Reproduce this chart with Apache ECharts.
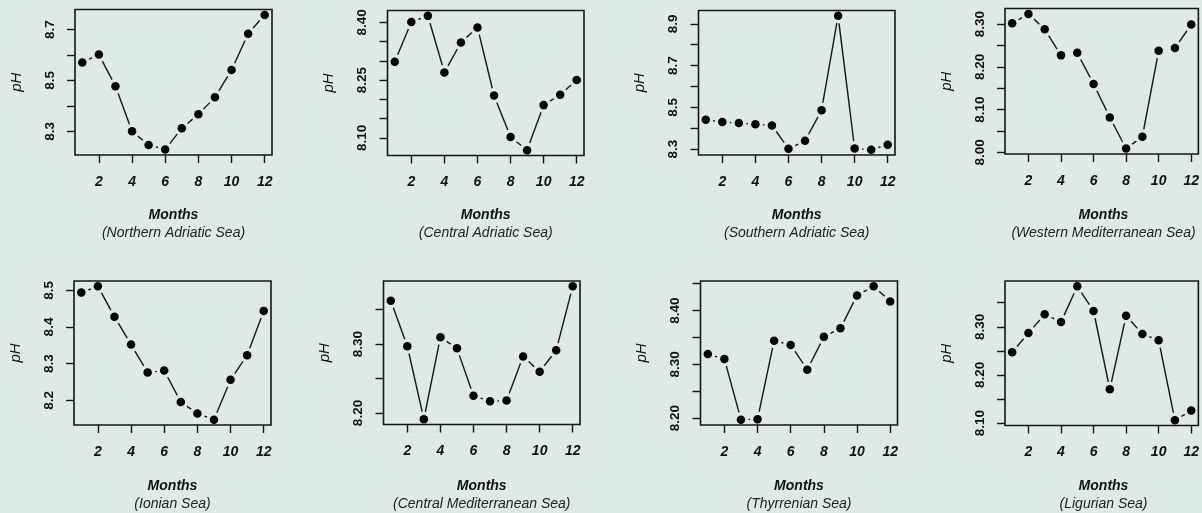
<!DOCTYPE html>
<html>
<head>
<meta charset="utf-8">
<script src="https://cdn.jsdelivr.net/npm/echarts@6/dist/echarts.min.js"></script>
<style>
html,body{margin:0;padding:0;background:#dfe9e6;}
#chart{width:1202px;height:513px;}
</style>
</head>
<body>
<div id="chart"></div>
<script>
// ---- data ----
const months = [1,2,3,4,5,6,7,8,9,10,11,12];
const xTicks = [2,4,6,8,10,12];

const seaNames = ['Northern Adriatic Sea','Central Adriatic Sea','Southern Adriatic Sea','Western Mediterranean Sea',
                  'Ionian Sea','Central Mediterranean Sea','Thyrrenian Sea','Ligurian Sea'];

const northernAdriatic = [8.571, 8.602, 8.477, 8.300, 8.246, 8.228, 8.312, 8.367, 8.434, 8.541, 8.684, 8.758];
const centralAdriatic  = [8.298, 8.401, 8.417, 8.270, 8.348, 8.387, 8.210, 8.102, 8.068, 8.185, 8.212, 8.250];
const southernAdriatic = [8.441, 8.430, 8.425, 8.419, 8.414, 8.302, 8.340, 8.486, 8.938, 8.303, 8.298, 8.322];
const westernMed       = [8.302, 8.324, 8.288, 8.227, 8.233, 8.160, 8.082, 8.009, 8.037, 8.238, 8.244, 8.299];
const ionian           = [8.494, 8.511, 8.428, 8.352, 8.276, 8.281, 8.195, 8.164, 8.147, 8.256, 8.323, 8.444];
const centralMed       = [8.363, 8.297, 8.191, 8.310, 8.294, 8.225, 8.217, 8.218, 8.282, 8.260, 8.291, 8.384];
const thyrrenian       = [8.319, 8.310, 8.197, 8.198, 8.344, 8.336, 8.290, 8.351, 8.367, 8.428, 8.445, 8.417];
const ligurian         = [8.247, 8.287, 8.326, 8.310, 8.384, 8.333, 8.170, 8.323, 8.285, 8.272, 8.106, 8.126];

const yTicks1 = [8.3, 8.4, 8.5, 8.6, 8.7];               const yLabels1 = ['8.3','8.5','8.7'];
const yTicks2 = [8.10, 8.15, 8.20, 8.25, 8.30, 8.35, 8.40]; const yLabels2 = ['8.10','8.25','8.40'];
const yTicks3 = [8.3, 8.4, 8.5, 8.6, 8.7, 8.8, 8.9];     const yLabels3 = ['8.3','8.5','8.7','8.9'];
const yTicks4 = [8.00, 8.05, 8.10, 8.15, 8.20, 8.25, 8.30]; const yLabels4 = ['8.00','8.10','8.20','8.30'];
const yTicks5 = [8.2, 8.3, 8.4, 8.5];                     const yLabels5 = ['8.2','8.3','8.4','8.5'];
const yTicks6 = [8.20, 8.25, 8.30, 8.35];                 const yLabels6 = ['8.20','8.30'];
const yTicks7 = [8.20, 8.25, 8.30, 8.35, 8.40, 8.45];     const yLabels7 = ['8.20','8.30','8.40'];
const yTicks8 = [8.10, 8.15, 8.20, 8.25, 8.30, 8.35];     const yLabels8 = ['8.10','8.20','8.30'];

// ---- layout ----
const panels = [
  {vals: northernAdriatic, yt: yTicks1, yl: yLabels1, grid:{left:75,   top:9.5,  width:197,   height:145.5}},
  {vals: centralAdriatic,  yt: yTicks2, yl: yLabels2, grid:{left:387.5,top:10.5, width:196.5, height:145}},
  {vals: southernAdriatic, yt: yTicks3, yl: yLabels3, grid:{left:698.5,top:10.5, width:196.5, height:144.5}},
  {vals: westernMed,       yt: yTicks4, yl: yLabels4, grid:{left:1005, top:8.5,  width:199,   height:145.5}},
  {vals: ionian,           yt: yTicks5, yl: yLabels5, grid:{left:74,   top:281,  width:197,   height:144}},
  {vals: centralMed,       yt: yTicks6, yl: yLabels6, grid:{left:383.5,top:281,  width:196.5, height:143.5}},
  {vals: thyrrenian,       yt: yTicks7, yl: yLabels7, grid:{left:700.5,top:281,  width:197,   height:144}},
  {vals: ligurian,         yt: yTicks8, yl: yLabels8, grid:{left:1005, top:281,  width:199,   height:144.5}},
];

const INK = '#161616';
const TXT = '#111';
const FONT = '"Liberation Sans", Arial, Helvetica, sans-serif';
const GAP = 7.5;

const grid = [], xAxis = [], yAxis = [], series = [], title = [];

panels.forEach((p, i) => {
  const g = p.grid;
  grid.push(Object.assign({show:true, borderColor:INK, borderWidth:1.6, backgroundColor:'transparent'}, g));
  // R-style 4% axis extension
  const xr = months[months.length-1] - months[0];
  const ymin = Math.min(...p.vals), ymax = Math.max(...p.vals), yr = ymax - ymin;
  xAxis.push({
    gridIndex:i, type:'value', min: months[0] - 0.04*xr, max: months[months.length-1] + 0.04*xr,
    axisLine:{show:false}, splitLine:{show:false},
    axisTick:{show:true, length:8, customValues:xTicks, lineStyle:{color:INK, width:1.4}},
    axisLabel:{customValues:xTicks, margin:20, fontFamily:FONT, fontSize:14, fontWeight:'bold', fontStyle:'italic', color:TXT}
  });
  yAxis.push({
    gridIndex:i, type:'value', min: ymin - 0.04*yr, max: ymax + 0.04*yr,
    axisLine:{show:false}, splitLine:{show:false},
    axisTick:{show:true, length:8, customValues:p.yt, lineStyle:{color:INK, width:1.4}},
    axisLabel:{customValues:p.yl.map(Number), rotate:90, margin:18, fontFamily:FONT, fontSize:13.5, fontWeight:'bold', color:TXT,
      formatter:(v)=>{ const s = p.yl.find(t => Math.abs(Number(t)-v) < 1e-9); return s || ''; }},
    name:'pH', nameLocation:'middle', nameRotate:90, nameGap:51,
    nameTextStyle:{fontFamily:FONT, fontSize:15, fontStyle:'italic', color:TXT}
  });
  const pts = months.map((m, k) => [m, p.vals[k]]);
  const segs = [];
  for (let k = 0; k < pts.length-1; k++) segs.push([pts[k][0], pts[k][1], pts[k+1][0], pts[k+1][1]]);
  series.push({
    type:'custom', xAxisIndex:i, yAxisIndex:i, data:segs, encode:{x:[0,2], y:[1,3]}, silent:true,
    renderItem:(params, api) => {
      const a = api.coord([api.value(0), api.value(1)]);
      const b = api.coord([api.value(2), api.value(3)]);
      const dx = b[0]-a[0], dy = b[1]-a[1], L = Math.sqrt(dx*dx+dy*dy);
      if (L - 2*GAP < 1.5) return null;
      const ux = dx/L, uy = dy/L;
      return {type:'line', shape:{x1:a[0]+ux*GAP, y1:a[1]+uy*GAP, x2:b[0]-ux*GAP, y2:b[1]-uy*GAP},
              style:{stroke:INK, lineWidth:1.4}};
    }
  });
  series.push({
    type:'scatter', xAxisIndex:i, yAxisIndex:i, data:pts, symbol:'circle', symbolSize:8.5,
    itemStyle:{color:'#000', opacity:1}, silent:true, clip:false
  });
  const row = i < 4 ? 0 : 1;
  title.push({
    text:'Months', subtext:'(' + seaNames[i] + ')',
    left: g.left + (i % 4 === 3 ? 197 : g.width)/2, top: row === 0 ? 208 : 479.5, textAlign:'center', itemGap:4, padding:0,
    textStyle:{fontFamily:FONT, fontSize:14, fontWeight:'bold', fontStyle:'italic', color:TXT, lineHeight:14},
    subtextStyle:{fontFamily:FONT, fontSize:14, fontStyle:'italic', color:'#222', lineHeight:14}
  });
});

const chart = echarts.init(document.getElementById('chart'), null, {renderer:'canvas'});
chart.setOption({backgroundColor:'#dfe9e6', animation:false, title, grid, xAxis, yAxis, series});
</script>
</body>
</html>
